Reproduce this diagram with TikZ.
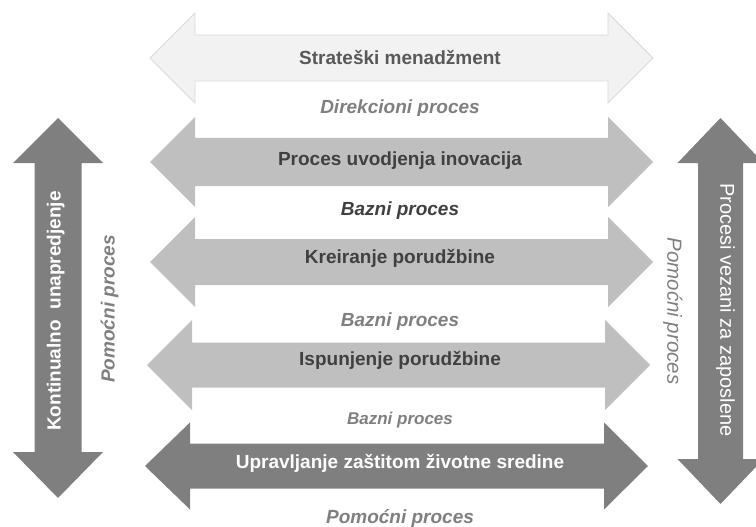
\documentclass[tikz,border=0pt]{standalone}
\usepackage{fontspec}
\setmainfont{Liberation Sans}
\definecolor{paleband}{HTML}{F2F2F2}
\definecolor{paleedge}{HTML}{D9D9D9}
\definecolor{midband}{HTML}{BFBFBF}
\definecolor{darkband}{HTML}{7F7F7F}
\definecolor{inkdark}{HTML}{404040}
\definecolor{inkmid}{HTML}{595959}
\definecolor{inkgray}{HTML}{7F7F7F}
% horizontal double arrow: #1 style, #2 left tip x, #3 shaft start x,
% #4 shaft end x, #5 right tip x, #6 centre y, #7 shaft half height, #8 head half height
\newcommand{\hband}[8]{%
  \path[#1] (#2,#6) -- (#3,#6-#8) -- (#3,#6-#7) -- (#4,#6-#7) -- (#4,#6-#8)
    -- (#5,#6) -- (#4,#6+#8) -- (#4,#6+#7) -- (#3,#6+#7) -- (#3,#6+#8) -- cycle;}
% vertical double arrow: #1 style, #2 centre x, #3 top tip y, #4 top head base y,
% #5 bottom head base y, #6 bottom tip y, #7 shaft half width, #8 head half width
\newcommand{\vband}[8]{%
  \path[#1] (#2,#3) -- (#2+#8,#4) -- (#2+#7,#4) -- (#2+#7,#5) -- (#2+#8,#5)
    -- (#2,#6) -- (#2-#8,#5) -- (#2-#7,#5) -- (#2-#7,#4) -- (#2-#8,#4) -- cycle;}
\tikzset{
  title/.style={anchor=mid, inner sep=0pt, font=\fontsize{19}{22}\selectfont\bfseries, text=inkdark},
  kind/.style={anchor=mid, inner sep=0pt, font=\fontsize{19}{22}\selectfont\bfseries\itshape, text=inkgray},
}
\begin{document}
\begin{tikzpicture}[x=1pt, y=-1pt]
\useasboundingbox (0,0) rectangle (756,527);

% process bands
\hband{fill=paleband, draw=paleedge, line width=0.8pt}{150}{195}{608}{653}{58}{23}{45}
\hband{fill=midband}{150}{195}{608}{653}{162}{24}{45}
\hband{fill=midband}{150}{195}{608}{653}{262}{23}{45}
\hband{fill=midband}{147}{192}{605}{650}{365}{22.5}{45}
\hband{fill=darkband}{145}{190}{604}{648}{466}{22.5}{43.5}

% side bands
\vband{fill=darkband}{58}{118}{163}{452}{498}{23.5}{45}
\vband{fill=darkband}{720.5}{118}{163}{459}{504}{22.5}{43}

% band titles
\node[title, text=inkmid] (strat) at (400,62) {Strateški menadžment};
\node[title] (inov) at (400,163) {Proces uvodjenja inovacija};
\node[title] (kreir) at (400,261) {Kreiranje porudžbine};
\node[title] (ispun) at (400,363) {Ispunjenje porudžbine};
\node[title, text=white] (okol) at (400,466) {Upravljanje zaštitom životne sredine};

% process kinds between the bands
\begin{scope}
  \clip (195,82) rectangle (608,116);
  \node[kind] (dir) at (400,111) {Direkcioni proces};
\end{scope}
\node[kind, text=inkdark] (baz1) at (400,213) {Bazni proces};
\node[kind] (baz2) at (400,324) {Bazni proces};
\begin{scope}
  \clip (192,395) rectangle (605,428);
  \node[kind, font=\fontsize{17}{20}\selectfont\bfseries\itshape] (baz3) at (400,422) {Bazni proces};
\end{scope}
\node[kind] (pom) at (400,521) {Pomoćni proces};

% side labels
\node[title, text=white, rotate=90] (kont) at (58,311) {Kontinualno\ \ unapredjenje};
\node[kind, rotate=90] (poml) at (112,309) {Pomoćni proces};
\node[anchor=mid, inner sep=0pt, font=\fontsize{20}{24}\selectfont, text=white, rotate=-90] (zapos) at (723,310) {Procesi vezani za zaposlene};
\node[anchor=mid, inner sep=0pt, font=\fontsize{20.5}{24}\selectfont\itshape, text=inkgray, rotate=-90] (pomr) at (670,311) {Pomoćni proces};
\end{tikzpicture}
\end{document}
